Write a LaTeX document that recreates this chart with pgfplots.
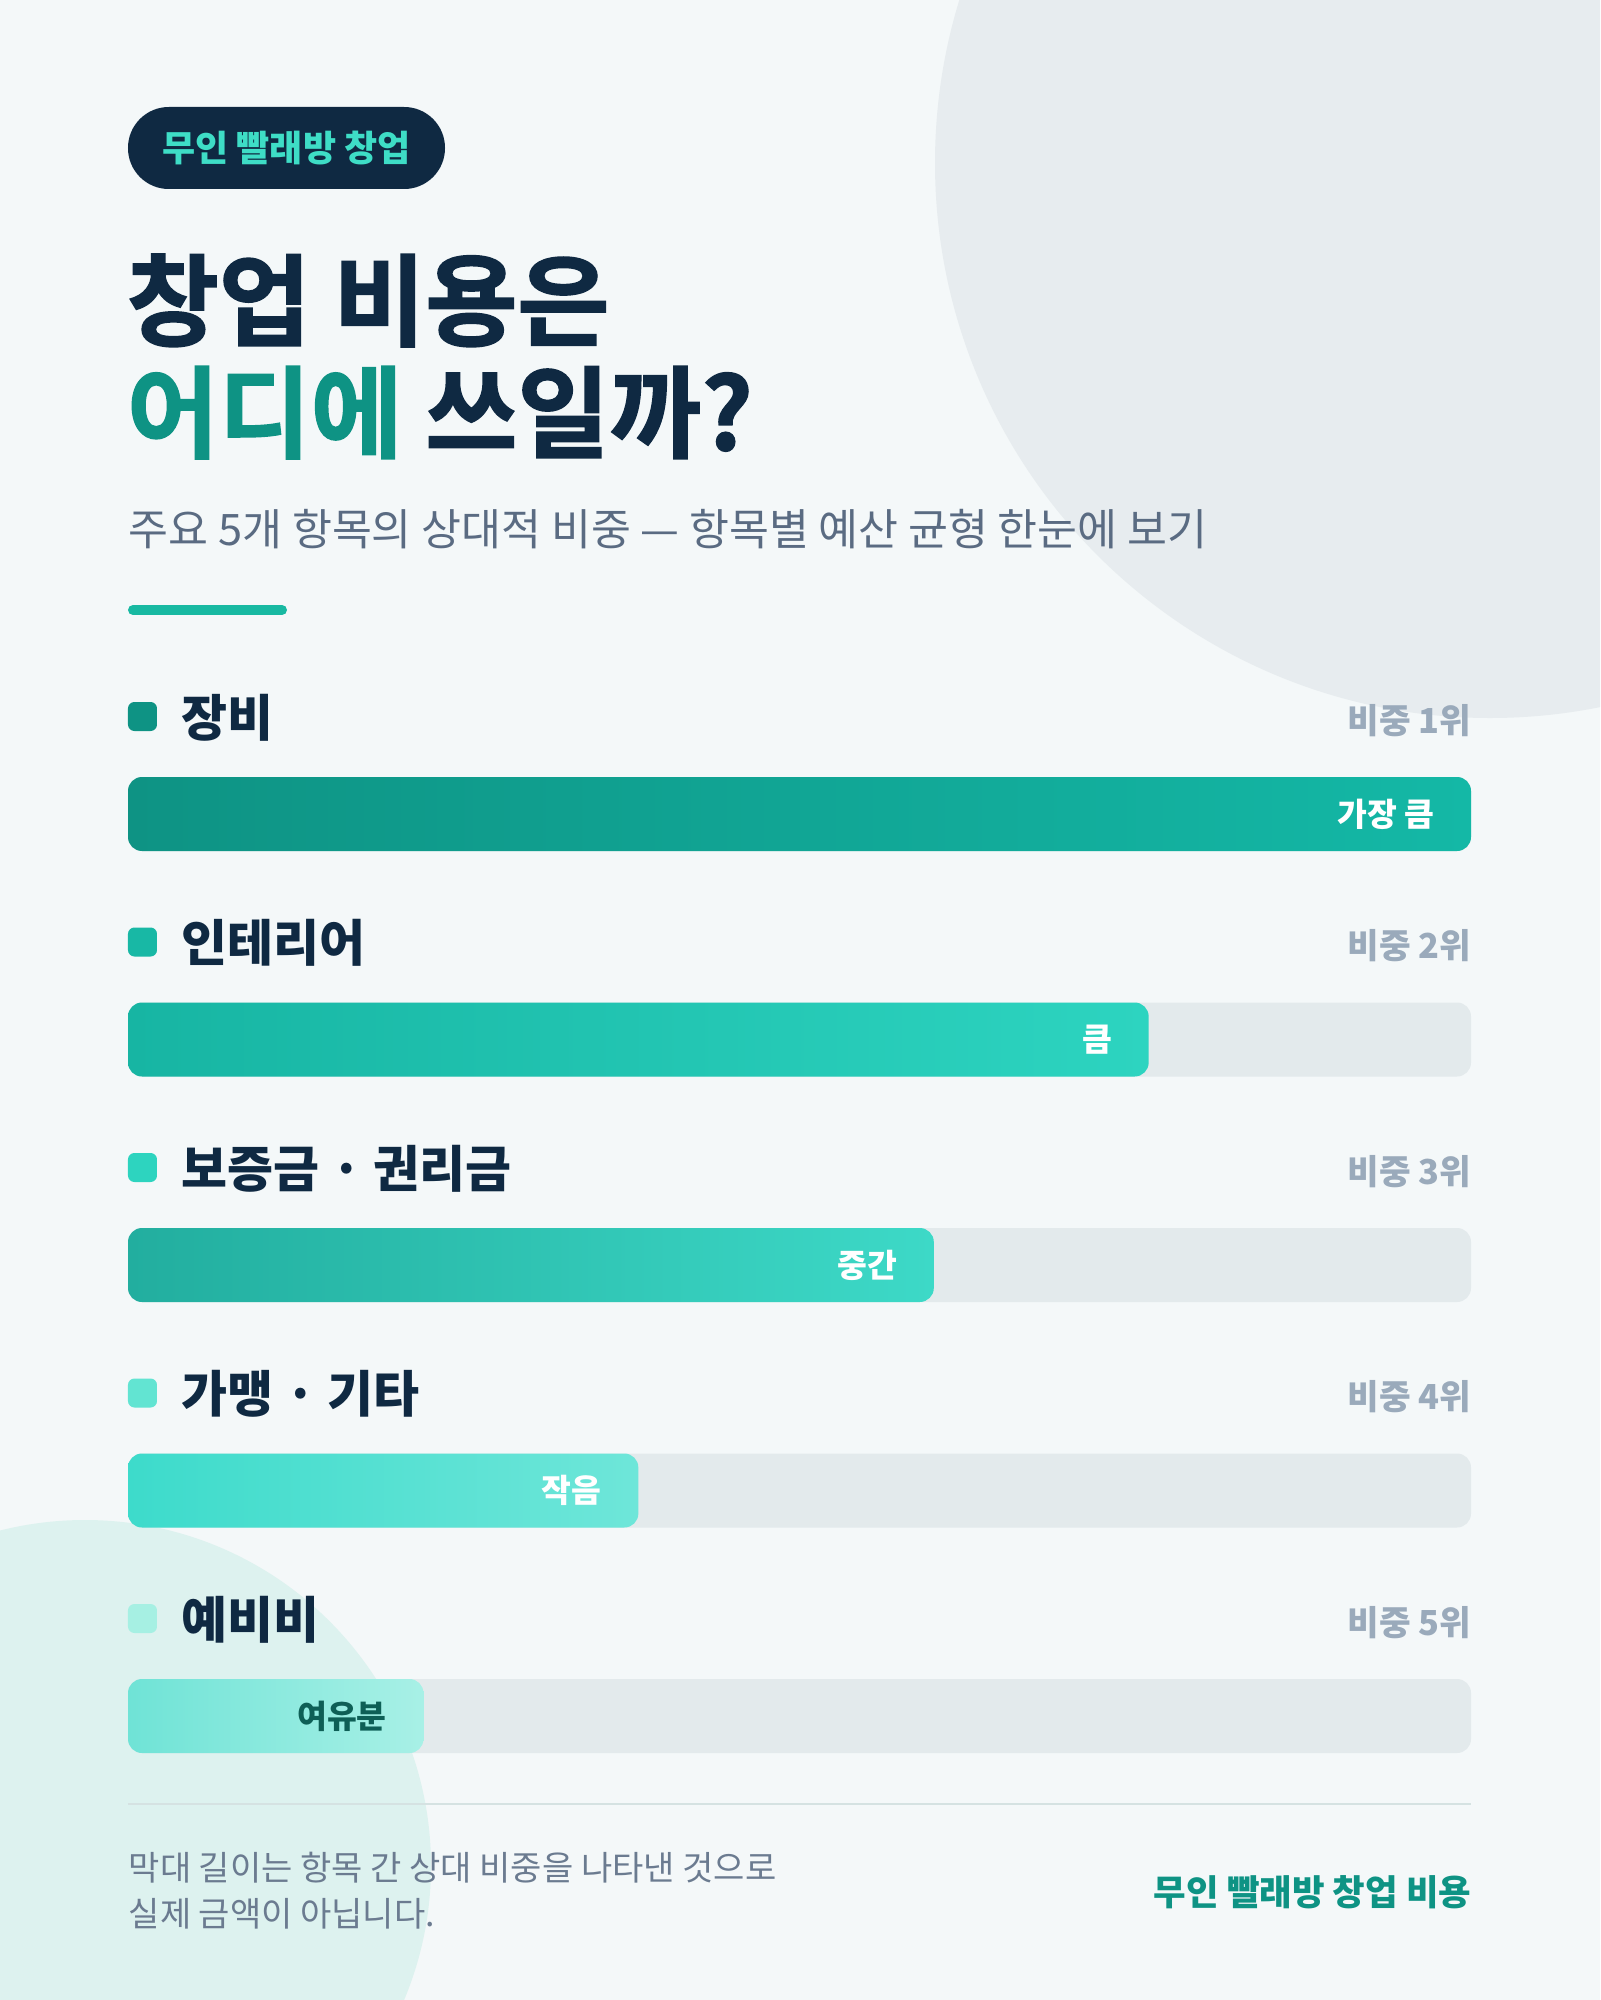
\documentclass[border=0pt]{standalone}
\usepackage{pgfplots}
\pgfplotsset{compat=1.18}
\usepackage{fontspec}
\setmainfont{Noto Sans CJK KR}
\newfontface\heavy{Noto Sans CJK KR Bold}[FakeBold=1.5]
\definecolor{bg}{HTML}{F4F8F9}
\definecolor{circA}{HTML}{E7ECEF}
\definecolor{circB}{HTML}{DDF2EF}
\definecolor{navy}{HTML}{0F2942}
\definecolor{tealD}{HTML}{0E9384}
\definecolor{pillT}{HTML}{3EDDC6}
\definecolor{subG}{HTML}{5A6B82}
\definecolor{accent}{HTML}{18B9A2}
\definecolor{rankG}{HTML}{9AAABB}
\definecolor{track}{HTML}{E3EAEC}
\definecolor{divL}{HTML}{D5E2E2}
\definecolor{footG}{HTML}{6B7B90}
\definecolor{lblD}{HTML}{0E5F56}
\definecolor{aL}{HTML}{0E9384}\definecolor{aR}{HTML}{14B8A6}
\definecolor{bL}{HTML}{17B5A3}\definecolor{bR}{HTML}{2DD4C0}
\definecolor{cL}{HTML}{22AE9F}\definecolor{cR}{HTML}{3DD9C7}
\definecolor{dL}{HTML}{3DDBCB}\definecolor{dR}{HTML}{6EE6D9}
\definecolor{eL}{HTML}{6FE3D6}\definecolor{eR}{HTML}{A8F0E6}
\definecolor{s1}{HTML}{0E9384}
\definecolor{s2}{HTML}{18B8A5}
\definecolor{s3}{HTML}{2DD4BF}
\definecolor{s4}{HTML}{62E4D2}
\definecolor{s5}{HTML}{A6F0E3}
\begin{document}
\begin{tikzpicture}
\useasboundingbox (0,0) rectangle (400pt,500pt);
\clip (0,0) rectangle (400pt,500pt);
\begin{axis}[at={(0,0)},anchor=south west,width=400pt,height=500pt,scale only axis,
  xmin=0,xmax=1600,ymin=0,ymax=2000,y dir=reverse,hide axis,clip=false]
\fill[bg] (axis cs:0,0) rectangle (axis cs:1600,2000);
\fill[circA] (axis cs:1490,163) circle[radius=138.75pt];
\fill[circB] (axis cs:85,1866) circle[radius=86.5pt];
% pill
\fill[navy, rounded corners=10.2pt] (axis cs:128,107) rectangle (axis cs:445,189);
\node[anchor=center, inner sep=0, text=pillT, font=\fontsize{9pt}{11pt}\selectfont\bfseries] at (axis cs:286.5,148) {무인 빨래방 창업};
% title
\node[anchor=base west, inner sep=0, text=navy, font=\fontsize{25pt}{30pt}\heavy] at (axis cs:126,338) {창업 비용은};
\node[anchor=base west, inner sep=0, font=\fontsize{25pt}{30pt}\heavy] at (axis cs:126,450) {\textcolor{tealD}{어디에} \textcolor{navy}{쓰일까?}};
\node[anchor=base west, inner sep=0, text=subG, font=\fontsize{10.85pt}{12pt}\selectfont] at (axis cs:128,545) {주요 5개 항목의 상대적 비중 — 항목별 예산 균형 한눈에 보기};
\draw[accent, line width=2.5pt, line cap=round] (axis cs:133,610) -- (axis cs:282,610);
% row labels
\fill[s1, rounded corners=1.6pt] (axis cs:128,702) rectangle (axis cs:157,731);
\fill[s2, rounded corners=1.6pt] (axis cs:128,927.5) rectangle (axis cs:157,956.5);
\fill[s3, rounded corners=1.6pt] (axis cs:128,1153) rectangle (axis cs:157,1182);
\fill[s4, rounded corners=1.6pt] (axis cs:128,1378.5) rectangle (axis cs:157,1407.5);
\fill[s5, rounded corners=1.6pt] (axis cs:128,1604) rectangle (axis cs:157,1633);
\tikzset{rowlbl/.style={anchor=base west, inner sep=0, text=navy, font=\fontsize{12.5pt}{14pt}\selectfont\bfseries},
  rank/.style={anchor=base east, inner sep=0, text=rankG, font=\fontsize{8.6pt}{11pt}\selectfont\bfseries}}
\node[rowlbl] at (axis cs:181,736) {장비};
\node[rowlbl] at (axis cs:181,961.5) {인테리어};
\node[rowlbl] at (axis cs:181,1187) {보증금 · 권리금};
\node[rowlbl] at (axis cs:181,1412.5) {가맹 · 기타};
\node[rowlbl] at (axis cs:181,1638) {예비비};
\node[rank] at (axis cs:1472,733) {비중 1위};
\node[rank] at (axis cs:1472,958.5) {비중 2위};
\node[rank] at (axis cs:1472,1184) {비중 3위};
\node[rank] at (axis cs:1472,1409.5) {비중 4위};
\node[rank] at (axis cs:1472,1635) {비중 5위};
% divider and footer
\draw[divL, line width=0.5pt] (axis cs:128,1804) -- (axis cs:1471,1804);
\node[anchor=base west, inner sep=0, text=footG, font=\fontsize{8.5pt}{10pt}\selectfont] at (axis cs:128,1880) {막대 길이는 항목 간 상대 비중을 나타낸 것으로};
\node[anchor=base west, inner sep=0, text=footG, font=\fontsize{8.5pt}{10pt}\selectfont] at (axis cs:128,1926) {실제 금액이 아닙니다.};
\node[anchor=base east, inner sep=0, text=tealD, font=\fontsize{8.85pt}{10pt}\selectfont\bfseries] at (axis cs:1472,1905) {무인 빨래방 창업 비용};
\end{axis}
\begin{axis}[at={(32pt,0)},anchor=south west,width=335.75pt,height=500pt,scale only axis,
  xmin=0,xmax=100,ymin=0,ymax=2000,y dir=reverse,hide axis,clip=false,
  xbar, bar width=74, bar shift=0pt,
  nodes near coords style={anchor=east, xshift=-9pt, inner sep=0, font=\fontsize{8.1pt}{10pt}\selectfont\bfseries, text=white}]
\addplot[fill=track, draw=none, rounded corners=3.5pt] coordinates {(100,814) (100,1039.5) (100,1265) (100,1490.5) (100,1716)};
\addplot[draw=none, left color=aL, right color=aR, rounded corners=3.5pt, nodes near coords={가장 큼}] coordinates {(100,814)};
\addplot[draw=none, left color=bL, right color=bR, rounded corners=3.5pt, nodes near coords={큼}] coordinates {(76,1039.5)};
\addplot[draw=none, left color=cL, right color=cR, rounded corners=3.5pt, nodes near coords={중간}] coordinates {(60,1265)};
\addplot[draw=none, left color=dL, right color=dR, rounded corners=3.5pt, nodes near coords={작음}] coordinates {(38,1490.5)};
\addplot[draw=none, left color=eL, right color=eR, rounded corners=3.5pt, nodes near coords={여유분},
  nodes near coords style={text=lblD}] coordinates {(22,1716)};
\end{axis}
\end{tikzpicture}
\end{document}
